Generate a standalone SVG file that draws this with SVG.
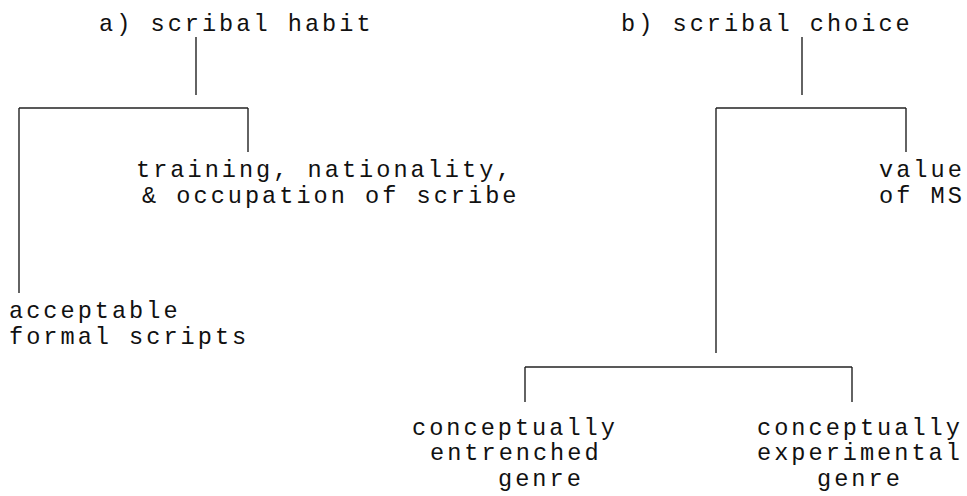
<svg xmlns="http://www.w3.org/2000/svg" width="967" height="496" viewBox="0 0 967 496">
<style>
text{font-family:"Liberation Mono","Courier New",monospace;font-size:23.6px;letter-spacing:3px;fill:#111;}
.c line{stroke:#222;stroke-width:1.4;fill:none;}
</style>
<rect width="967" height="496" fill="#fff"/>
<g class="c" id="connectors">
<line x1="196" y1="37" x2="196" y2="95"/>
<line x1="19" y1="108" x2="248" y2="108"/>
<line x1="19" y1="108" x2="19" y2="293"/>
<line x1="248" y1="108" x2="248" y2="152"/>
<line x1="802" y1="37" x2="802" y2="95"/>
<line x1="716" y1="108" x2="906" y2="108"/>
<line x1="906" y1="108" x2="906" y2="152"/>
<line x1="716" y1="108" x2="716" y2="353"/>
<line x1="525" y1="367" x2="852" y2="367"/>
<line x1="525" y1="367" x2="525" y2="402"/>
<line x1="852" y1="367" x2="852" y2="402"/>
</g>
<g id="habit"><text x="99" y="31">a) scribal habit</text></g>
<g id="choice"><text x="621" y="31">b) scribal choice</text></g>
<g id="training"><text x="136" y="177">training, nationality,</text><text x="142" y="203">&amp; occupation of scribe</text></g>
<g id="value"><text x="879" y="177">value</text><text x="879" y="203">of MS</text></g>
<g id="formal"><text x="9" y="318">acceptable</text><text x="9" y="344">formal scripts</text></g>
<g id="entrenched"><text x="412" y="435">conceptually</text><text x="430" y="460">entrenched</text><text x="498" y="486">genre</text></g>
<g id="experimental"><text x="757" y="435">conceptually</text><text x="757" y="460">experimental</text><text x="817" y="486">genre</text></g>
</svg>
